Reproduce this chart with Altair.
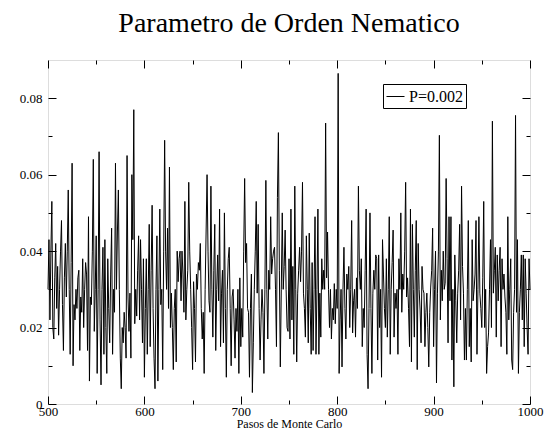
import altair as alt
import pandas as pd

# Monte Carlo steps (x) and nematic order parameter (y)
pasos = list(range(500, 1001))
valores = [
    0.030, 0.043, 0.022, 0.040, 0.053, 0.020, 0.017, 0.033, 0.042, 0.025,
    0.036, 0.018, 0.030, 0.040, 0.048, 0.026, 0.014, 0.033, 0.042, 0.028,
    0.040, 0.056, 0.030, 0.013, 0.037, 0.063, 0.010, 0.026, 0.022, 0.030,
    0.025, 0.033, 0.035, 0.014, 0.028, 0.024, 0.038, 0.020, 0.030, 0.037,
    0.034, 0.014, 0.049, 0.006, 0.028, 0.026, 0.040, 0.064, 0.019, 0.030,
    0.044, 0.008, 0.030, 0.066, 0.022, 0.005, 0.030, 0.041, 0.013, 0.043,
    0.020, 0.008, 0.038, 0.025, 0.016, 0.034, 0.046, 0.013, 0.030, 0.024,
    0.063, 0.030, 0.045, 0.056, 0.030, 0.012, 0.004, 0.020, 0.016, 0.024,
    0.020, 0.012, 0.065, 0.028, 0.019, 0.029, 0.012, 0.060, 0.043, 0.077,
    0.021, 0.030, 0.023, 0.035, 0.044, 0.022, 0.043, 0.030, 0.016, 0.038,
    0.007, 0.025, 0.038, 0.013, 0.030, 0.047, 0.015, 0.035, 0.052, 0.025,
    0.012, 0.004, 0.030, 0.044, 0.006, 0.030, 0.051, 0.026, 0.030, 0.009,
    0.040, 0.069, 0.040, 0.030, 0.046, 0.025, 0.062, 0.020, 0.029, 0.020,
    0.009, 0.025, 0.030, 0.011, 0.040, 0.032, 0.038, 0.040, 0.027, 0.040,
    0.034, 0.024, 0.053, 0.022, 0.030, 0.035, 0.058, 0.040, 0.030, 0.020,
    0.009, 0.032, 0.025, 0.011, 0.034, 0.030, 0.037, 0.035, 0.042, 0.025,
    0.017, 0.024, 0.008, 0.030, 0.045, 0.060, 0.040, 0.027, 0.024, 0.057,
    0.030, 0.0175, 0.035, 0.047, 0.014, 0.030, 0.039, 0.027, 0.051, 0.015,
    0.029, 0.035, 0.016, 0.050, 0.025, 0.007, 0.030, 0.038, 0.041, 0.025,
    0.010, 0.028, 0.030, 0.022, 0.012, 0.025, 0.019, 0.030, 0.008, 0.033,
    0.015, 0.025, 0.0175, 0.040, 0.059, 0.037, 0.042, 0.025, 0.024, 0.007,
    0.025, 0.034, 0.003, 0.016, 0.030, 0.040, 0.053, 0.029, 0.047, 0.025,
    0.0115, 0.022, 0.030, 0.024, 0.008, 0.030, 0.0585, 0.030, 0.017, 0.035,
    0.030, 0.049, 0.034, 0.038, 0.040, 0.041, 0.030, 0.015, 0.054, 0.071,
    0.035, 0.0097, 0.030, 0.050, 0.030, 0.036, 0.0455, 0.030, 0.020, 0.019,
    0.038, 0.017, 0.051, 0.022, 0.036, 0.013, 0.057, 0.030, 0.011, 0.029,
    0.035, 0.041, 0.032, 0.040, 0.058, 0.029, 0.025, 0.0175, 0.044, 0.030,
    0.016, 0.0447, 0.025, 0.013, 0.037, 0.014, 0.030, 0.049, 0.013, 0.030,
    0.051, 0.013, 0.029, 0.0175, 0.038, 0.030, 0.035, 0.030, 0.0735, 0.033,
    0.045, 0.030, 0.020, 0.030, 0.017, 0.025, 0.022, 0.0315, 0.021, 0.030,
    0.025, 0.0865, 0.008, 0.022, 0.030, 0.0097, 0.030, 0.041, 0.025, 0.017,
    0.034, 0.030, 0.036, 0.020, 0.030, 0.048, 0.0186, 0.027, 0.030, 0.0175,
    0.033, 0.025, 0.057, 0.035, 0.030, 0.038, 0.015, 0.025, 0.020, 0.035,
    0.051, 0.013, 0.004, 0.025, 0.050, 0.025, 0.008, 0.029, 0.035, 0.030,
    0.039, 0.038, 0.0115, 0.039, 0.020, 0.030, 0.007, 0.043, 0.034, 0.025,
    0.020, 0.038, 0.0175, 0.030, 0.049, 0.013, 0.030, 0.037, 0.0455, 0.0175,
    0.029, 0.025, 0.030, 0.013, 0.038, 0.030, 0.050, 0.024, 0.034, 0.030,
    0.040, 0.058, 0.028, 0.033, 0.025, 0.015, 0.051, 0.011, 0.047, 0.030,
    0.0175, 0.035, 0.048, 0.009, 0.042, 0.030, 0.0246, 0.016, 0.036, 0.030,
    0.029, 0.015, 0.024, 0.029, 0.020, 0.0097, 0.024, 0.0306, 0.035, 0.046,
    0.015, 0.030, 0.040, 0.0055, 0.029, 0.040, 0.0703, 0.022, 0.035, 0.027,
    0.040, 0.030, 0.0316, 0.059, 0.038, 0.016, 0.049, 0.027, 0.049, 0.0115,
    0.030, 0.0045, 0.039, 0.027, 0.016, 0.029, 0.035, 0.047, 0.022, 0.057,
    0.036, 0.029, 0.0115, 0.025, 0.0115, 0.030, 0.048, 0.015, 0.025, 0.011,
    0.043, 0.027, 0.030, 0.034, 0.048, 0.013, 0.030, 0.049, 0.029, 0.025,
    0.020, 0.033, 0.053, 0.020, 0.030, 0.008, 0.015, 0.0186, 0.030, 0.043,
    0.020, 0.074, 0.029, 0.035, 0.041, 0.0175, 0.039, 0.027, 0.035, 0.041,
    0.015, 0.038, 0.030, 0.034, 0.028, 0.024, 0.013, 0.049, 0.022, 0.030,
    0.038, 0.0115, 0.009, 0.024, 0.030, 0.0755, 0.024, 0.043, 0.008, 0.024,
    0.030, 0.039, 0.022, 0.039, 0.015, 0.038, 0.029, 0.020, 0.013, 0.038,
    0.030,
]
serie = "P=0.002"

# Axis tick values
x_major = [500, 600, 700, 800, 900, 1000]
x_minor = [550, 650, 750, 850, 950]
y_major = [0, 0.02, 0.04, 0.06, 0.08]
y_minor = [0.01, 0.03, 0.05, 0.07]

df = pd.DataFrame({"paso": pasos, "valor": valores, "serie": [serie] * len(pasos)})

FONT = "Liberation Serif"
xs = alt.Scale(domain=[500, 1000], nice=False, zero=False)
ys = alt.Scale(domain=[0, 0.09], nice=False, zero=False)

MAJ = 8
MIN = 4


def ax(orient, values, size, labels=False, **kw):
    return alt.Axis(
        orient=orient, values=values, tickSize=size, offset=-size,
        domain=False, grid=False, labels=labels, tickColor="black",
        tickWidth=1, **kw
    )


xb_major = ax("bottom", x_major, MAJ, labels=True, labelFont=FONT, labelFontSize=13,
              labelColor="black", labelPadding=1, labelFlush=False, format="d",
              title="Pasos de Monte Carlo", titleFont=FONT, titleFontSize=12,
              titleFontWeight="normal", titleColor="black", titlePadding=0)
yl_major = ax("left", y_major, MAJ, labels=True, labelFont=FONT, labelFontSize=13,
              labelColor="black", labelPadding=6, labelFlush=False,
              labelExpr="datum.value == 0 ? '0' : format(datum.value, '.2f')",
              title=None)

base = alt.Chart(df)


def layer(xaxis, yaxis, opacity, with_legend=False):
    enc = dict(
        x=alt.X("paso:Q", scale=xs, axis=xaxis),
        y=alt.Y("valor:Q", scale=ys, axis=yaxis),
    )
    if with_legend:
        enc["color"] = alt.Color(
            "serie:N", scale=alt.Scale(range=["black"]), title=None,
            legend=alt.Legend(
                orient="none", legendX=335, legendY=24, strokeColor="black",
                padding=3, symbolType="stroke", symbolSize=324,
                symbolStrokeWidth=1, labelFont=FONT, labelFontSize=16,
                labelColor="black", fillColor="white",
            ),
        )
    return base.mark_line(color="black", strokeWidth=1, opacity=opacity).encode(**enc)


l1 = layer(xb_major, yl_major, 1, with_legend=True)
l2 = layer(ax("top", x_major, MAJ, title=None), ax("right", y_major, MAJ, title=None), 0)
l3 = layer(ax("bottom", x_minor, MIN, title=None), ax("left", y_minor, MIN, title=None), 0)
l4 = layer(ax("top", x_minor, MIN, title=None), ax("right", y_minor, MIN, title=None), 0)

chart = (
    alt.layer(l1, l2, l3, l4)
    .resolve_axis(x="independent", y="independent")
    .properties(
        width=482, height=344,
        autosize=alt.AutoSizeParams(type="none"),
        padding={"left": 48, "top": 60, "right": 14, "bottom": 32},
        title=alt.TitleParams(
            "Parametro de Orden Nematico", font=FONT, fontSize=28,
            fontWeight="normal", color="black", anchor="middle", offset=22,
        ),
    )
    .configure_view(stroke="black", strokeWidth=1)
    .configure(background="white")
)

chart.save("out.html", embed_options={"renderer": "svg", "actions": False})
